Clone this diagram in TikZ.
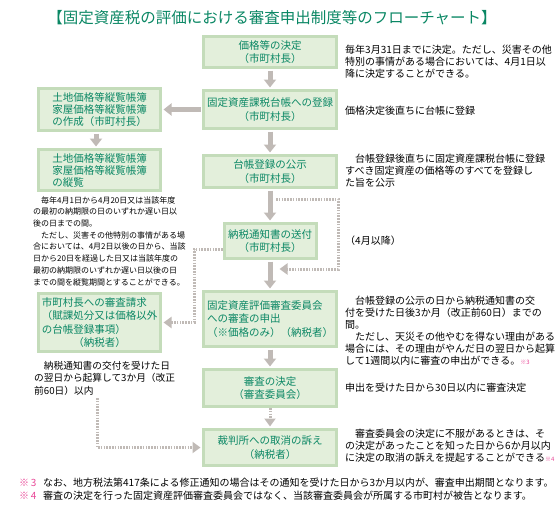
\documentclass[tikz,border=0pt]{standalone}
\usepackage{fontspec}
\setmainfont{Noto Sans CJK JP}
\usepackage{tikz}
\usetikzlibrary{arrows.meta,calc}
\definecolor{flowgreen}{RGB}{10,135,100}
\definecolor{flowfill}{RGB}{227,239,219}
\definecolor{flowedge}{RGB}{196,220,186}
\definecolor{flowgrey}{RGB}{192,186,182}
\definecolor{flowpink}{RGB}{232,70,150}

\begin{document}
\begin{tikzpicture}[x=1pt, y=-1pt,
    stepbox/.style={draw=flowedge, fill=flowfill, line width=3pt, inner sep=0pt,
                    text=flowgreen, align=center,
                    font=\fontsize{10.5}{13.5}\selectfont},
    midbox/.style={stepbox, minimum width=133pt},
    leftbox/.style={stepbox, minimum width=122pt, align=left,
                    font=\fontsize{10.5}{12}\selectfont},
    arr/.style={-{Triangle[width=12pt,length=8pt]}, line width=5pt, flowgrey,
                shorten <=1.5pt, shorten >=1.5pt},
    dotarr/.style={-{Triangle[width=11pt,length=8pt]}, line width=3pt, flowgrey,
                   dash pattern=on 1.6pt off 1.2pt, shorten >=1.5pt},
    note/.style={anchor=base west, inner sep=0pt, align=left,
                 font=\fontsize{10}{12}\selectfont},
  ]
  \useasboundingbox (0,0) rectangle (557,506);

  % --- title ---
  \node[font=\fontsize{15.5}{17}\selectfont, text=flowgreen] (title) at (272,18)
    {【固定資産税の評価における審査申出制度等のフローチャート】};

  % --- main column ---
  \node[midbox, minimum height=31pt] (decide) at (270,52) {価格等の決定\\（市町村長）};
  \node[midbox, minimum height=38pt] (ledger) at (270,109.5) {固定資産課税台帳への登録\\（市町村長）};
  \node[midbox, minimum height=32pt] (notice) at (270,171.5) {台帳登録の公示\\（市町村長）};
  \node[stepbox, minimum width=92pt, minimum height=35pt] (send) at (270,241)
    {納税通知書の送付\\（市町村長）};
  \node[midbox, minimum height=55pt, align=left] (appeal) at (270,319)
    {固定資産評価審査委員会\\への審査の申出\\（※価格のみ）（納税者）};
  \node[midbox, minimum height=37pt] (ruling) at (270,388) {審査の決定\\（審査委員会）};
  \node[midbox, minimum height=36pt] (court) at (270,447.5) {裁判所への取消の訴え\\（納税者）};

  % --- left column ---
  \node[leftbox, minimum height=42pt] (make) at (99.5,109.5)
    {土地価格等縦覧帳簿\\家屋価格等縦覧帳簿\\の作成（市町村長）};
  \node[leftbox, minimum height=41pt] (inspect) at (99.5,170)
    {土地価格等縦覧帳簿\\家屋価格等縦覧帳簿\\の縦覧};
  \node[leftbox, minimum height=58pt, font=\fontsize{10.5}{13.3}\selectfont] (review) at (99.5,322.5)
    {市町村長への審査請求\\（賦課処分又は価格以外\\の台帳登録事項）\\\hspace*{3em}（納税者）};

  % --- notes (placed at the baseline of their last line) ---
  \node[note] (ndecide) at (345,77)
    {毎年3月31日までに決定。ただし、災害その他\\特別の事情がある場合においては、4月1日以\\降に決定することができる。};
  \node[note] (nledger) at (345,114) {価格決定後直ちに台帳に登録};
  \node[note] (nnotice) at (345,186)
    {　台帳登録後直ちに固定資産課税台帳に登録\\すべき固定資産の価格等のすべてを登録し\\た旨を公示};
  \node[note] (nsend) at (345,244) {（4月以降）};
  \node[note] (nappeal) at (345,364)
    {　台帳登録の公示の日から納税通知書の交\\付を受けた日後3か月（改正前60日）までの\\間。\\
     　ただし、天災その他やむを得ない理由がある\\場合には、その理由がやんだ日の翌日から起算\\して1週間以内に審査の申出ができる。{\color{flowpink}\fontsize{6}{6}\selectfont ※3}};
  \node[note] (nruling) at (345,391) {申出を受けた日から30日以内に審査決定};
  \node[note] (ncourt) at (345,461)
    {　審査委員会の決定に不服があるときは、そ\\の決定があったことを知った日から6か月以内\\に決定の取消の訴えを提起することができる{\color{flowpink}\fontsize{6}{6}\selectfont ※4}};
  \node[note, font=\fontsize{8}{11.7}\selectfont] (ninspect) at (33,285)
    {　毎年4月1日から4月20日又は当該年度\\の最初の納期限の日のいずれか遅い日以\\後の日までの間。\\
     　ただし、災害その他特別の事情がある場\\合においては、4月2日以後の日から、当該\\日から20日を経過した日又は当該年度の\\
     最初の納期限のいずれか遅い日以後の日\\までの間を縦覧期間とすることができる。};
  \node[note, font=\fontsize{9.7}{12.5}\selectfont] (nreview) at (34,394)
    {　納税通知書の交付を受けた日\\の翌日から起算して3か月（改正\\前60日）以内};

  % --- footnotes ---
  \node[note, text=flowpink] (fmark3) at (19,486) {※\,3};
  \node[note] (fnote3) at (43,486)
    {なお、地方税法第417条による修正通知の場合はその通知を受けた日から3か月以内が、審査申出期間となります。};
  \node[note, text=flowpink] (fmark4) at (19,499) {※\,4};
  \node[note] (fnote4) at (43,499)
    {審査の決定を行った固定資産評価審査委員会ではなく、当該審査委員会が所属する市町村が被告となります。};

  % --- connectors ---
  \draw[arr] (decide) -- (ledger);
  \draw[arr] (ledger) -- (notice);
  \draw[arr] (notice) -- (send);
  \draw[arr] (send) -- (appeal);
  \draw[arr] (appeal) -- (ruling);
  \draw[dotarr] (ruling) -- (court);
  \draw[arr] (ledger) -- (make);
  \draw[arr] ([xshift=-3.5pt]make.south) -- ([xshift=-3.5pt]inspect.north);

  \coordinate (loopin) at (276,199);
  \coordinate (loopcorner) at (338,199);
  \coordinate (loopout) at (278,269);
  \draw[dotarr] (loopin) -- (loopcorner) |- (loopout);

  \coordinate (sendbend) at (194,249);
  \draw[dotarr] (send.west |- sendbend) -- (sendbend) |- (review.east);

  \coordinate (courtfrom) at (97,398);
  \draw[dotarr] (courtfrom) |- (court.west);
\end{tikzpicture}
\end{document}
